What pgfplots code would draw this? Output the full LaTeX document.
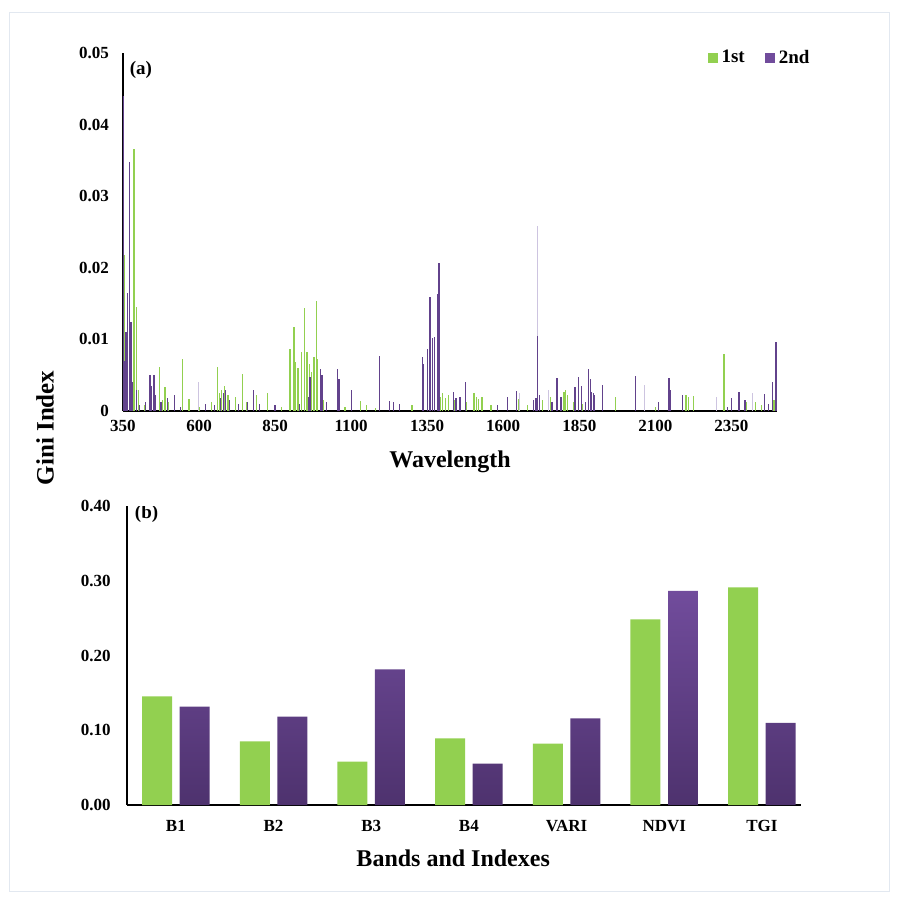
\documentclass[border=0pt]{standalone}
\usepackage{fontspec}
\setmainfont{Liberation Serif}
\usepackage{pgfplots}
\pgfplotsset{compat=1.18}
\definecolor{ggreen}{RGB}{146,208,80}
\definecolor{gpurple}{RGB}{98,66,140}
\definecolor{ptop}{RGB}{113,76,156}
\definecolor{pbot}{RGB}{78,50,110}
\definecolor{pfaint}{RGB}{205,196,224}
\definecolor{framec}{RGB}{226,232,240}
\begin{document}
\begin{tikzpicture}[x=1pt,y=1pt]
\path[use as bounding box] (-61.5,205.5) rectangle (388,-245);
\draw[framec, line width=0.5pt] (-56.5,199.5) rectangle (383,-240);
\begin{axis}[
  at={(0pt,0pt)}, anchor=south west,
  scale only axis, width=327pt, height=179pt,
  xmin=350, xmax=2500, ymin=0, ymax=0.05,
  axis lines=left, axis line style={-, line width=0.9pt},
  major tick length=0pt,
  scaled y ticks=false, scaled x ticks=false,
  xtick={350,600,850,1100,1350,1600,1850,2100,2350},
  xticklabels={350,600,850,1100,1350,1600,1850,2100,2350},
  ytick={0,0.01,0.02,0.03,0.04,0.05},
  yticklabels={0,0.01,0.02,0.03,0.04,0.05},
  tick label style={font=\fontsize{8.5}{10}\selectfont\bfseries},
  xticklabel style={yshift=-1pt},
  yticklabel style={xshift=-3.5pt},
  xlabel={Wavelength},
  xlabel style={font=\fontsize{12}{14}\selectfont\bfseries, at={(rel axis cs:0.5,0)}, anchor=center, yshift=-25.5pt},
  ylabel={Gini Index},
  ylabel style={font=\fontsize{12.5}{14}\selectfont\bfseries, at={(rel axis cs:-0.1193,-0.047)}, anchor=center},
  legend style={draw=none, fill=none, at={(rel axis cs:0.884,0.986)}, anchor=west,
    font=\fontsize{9.5}{11}\selectfont\bfseries,
    /tikz/every even column/.append style={column sep=8pt}},
  legend columns=2,
  legend image code/.code={\fill[#1] (0pt,-2.5pt) rectangle (5pt,2.5pt);},
]
\addplot[ycomb, ggreen, line width=0.6pt, forget plot] coordinates {
(353,0.0218) (357,0.011) (362,0.0075) (386,0.0366) (389,0.0325) (395,0.0145) (400,0.003)
(420,0.0008) (455,0.0018) (469,0.0062) (480,0.0015) (488,0.0033) (500,0.0012) (520,0.0008)
(546,0.0072) (567,0.0017) (600,0.0005) (640,0.0012) (661,0.0061) (668,0.0025) (675,0.003)
(685,0.0035) (695,0.0022) (720,0.002) (742,0.0051) (755,0.0012) (790,0.0022) (826,0.0025)
(870,0.0005) (899,0.0086) (912,0.0117) (918,0.0068) (925,0.006) (936,0.0082) (946,0.0144)
(955,0.0083) (962,0.0065) (970,0.0055) (978,0.0075) (985,0.0153) (990,0.0072) (1010,0.0015)
(1080,0.0005) (1132,0.0014) (1150,0.0008) (1180,0.0004) (1300,0.0008) (1390,0.0024)
(1395,0.002) (1400,0.0025) (1410,0.0018) (1420,0.0022) (1440,0.0015) (1480,0.0012)
(1504,0.0025) (1512,0.0019) (1520,0.0017) (1530,0.0019) (1560,0.0008) (1650,0.0017)
(1680,0.0008) (1730,0.0015) (1755,0.002) (1790,0.0018) (1800,0.0027) (1805,0.003)
(1812,0.0022) (1830,0.0012) (1860,0.001) (1900,0.0012) (1970,0.002) (2100,0.0005)
(2201,0.0023) (2210,0.002) (2225,0.0021) (2326,0.0079) (2400,0.0012) (2430,0.0013)
(2450,0.0009) (2490,0.0015)
};
\addplot[ycomb, pfaint, line width=0.5pt, forget plot] coordinates {
(597,0.004) (1655,0.0025) (1713,0.0258) (1750,0.003) (2066,0.0036) (2300,0.002) (2420,0.0025)
};
\addplot[ycomb, gpurple, line width=0.6pt, forget plot] coordinates {
(350,0.044) (352,0.012) (356,0.007) (360,0.011) (365,0.0165) (371,0.0348) (376,0.0125)
(380,0.004) (395,0.003) (405,0.0008) (425,0.0012) (439,0.005) (444,0.0035) (452,0.005)
(458,0.0022) (475,0.0012) (495,0.0018) (519,0.0023) (540,0.0005) (620,0.001) (650,0.0008)
(670,0.0018) (680,0.0025) (688,0.003) (700,0.0015) (730,0.001) (760,0.0012) (778,0.003)
(800,0.001) (850,0.0008) (930,0.001) (960,0.002) (965,0.0047) (999,0.0059) (1004,0.005)
(1020,0.0012) (1056,0.0059) (1060,0.0045) (1102,0.003) (1192,0.0077) (1226,0.0014)
(1240,0.0012) (1260,0.001) (1334,0.0075) (1338,0.0065) (1352,0.0086) (1357,0.0126)
(1359,0.0159) (1368,0.0102) (1373,0.0104) (1385,0.0164) (1389,0.0207) (1391,0.0102)
(1436,0.0026) (1445,0.0018) (1458,0.002) (1475,0.004) (1580,0.0008) (1613,0.0019)
(1644,0.0028) (1700,0.0015) (1708,0.0018) (1713,0.0105) (1720,0.0023) (1760,0.0012)
(1777,0.0046) (1790,0.002) (1836,0.0033) (1847,0.0047) (1856,0.0035) (1870,0.0012)
(1881,0.0058) (1886,0.0045) (1890,0.0026) (1896,0.0025) (1900,0.0022) (1926,0.0037)
(2035,0.0049) (2110,0.0012) (2145,0.0046) (2150,0.003) (2190,0.0023) (2336,0.0005)
(2350,0.0018) (2375,0.0027) (2395,0.0015) (2460,0.0024) (2472,0.001) (2484,0.004)
(2497,0.0096)
};
\addlegendimage{fill=ggreen, draw=none}
\addlegendentry{1st}
\addlegendimage{fill=ptop, draw=none}
\addlegendentry{2nd}
\node[font=\fontsize{9.5}{11}\selectfont\bfseries, anchor=center] at (rel axis cs:0.0275,0.9525) {(a)};
\end{axis}
\begin{axis}[
  at={(2pt,-197pt)}, anchor=south west,
  scale only axis, width=337pt, height=149.5pt,
  xmin=-0.5, xmax=6.4, ymin=0, ymax=0.4,
  axis lines=left, axis line style={-, line width=0.6pt},
  major tick length=0pt,
  scaled y ticks=false,
  xtick={0,1,2,3,4,5,6},
  xticklabels={B1,B2,B3,B4,VARI,NDVI,TGI},
  ytick={0,0.1,0.2,0.3,0.4},
  yticklabels={0.00,0.10,0.20,0.30,0.40},
  tick label style={font=\fontsize{8.5}{10}\selectfont\bfseries},
  xticklabel style={yshift=-4pt},
  yticklabel style={xshift=-4.7pt},
  xlabel={Bands and Indexes},
  xlabel style={font=\fontsize{12}{14}\selectfont\bfseries, at={(rel axis cs:0.484,0)}, anchor=center, yshift=-26.5pt},
]
\addplot[ybar, bar width=0.307, bar shift=-0.192, fill=ggreen, draw=none] coordinates {
(0,0.1454) (1,0.0852) (2,0.058) (3,0.0892) (4,0.082) (5,0.2484) (6,0.2912)
};
\addplot[ybar, bar width=0.307, bar shift=0.192, top color=ptop, bottom color=pbot, draw=none] coordinates {
(0,0.1315) (1,0.1181) (2,0.1815) (3,0.0553) (4,0.116) (5,0.2863) (6,0.110)
};
\node[font=\fontsize{9.5}{11}\selectfont\bfseries, anchor=center] at (rel axis cs:0.029,0.975) {(b)};
\end{axis}
\end{tikzpicture}
\end{document}
